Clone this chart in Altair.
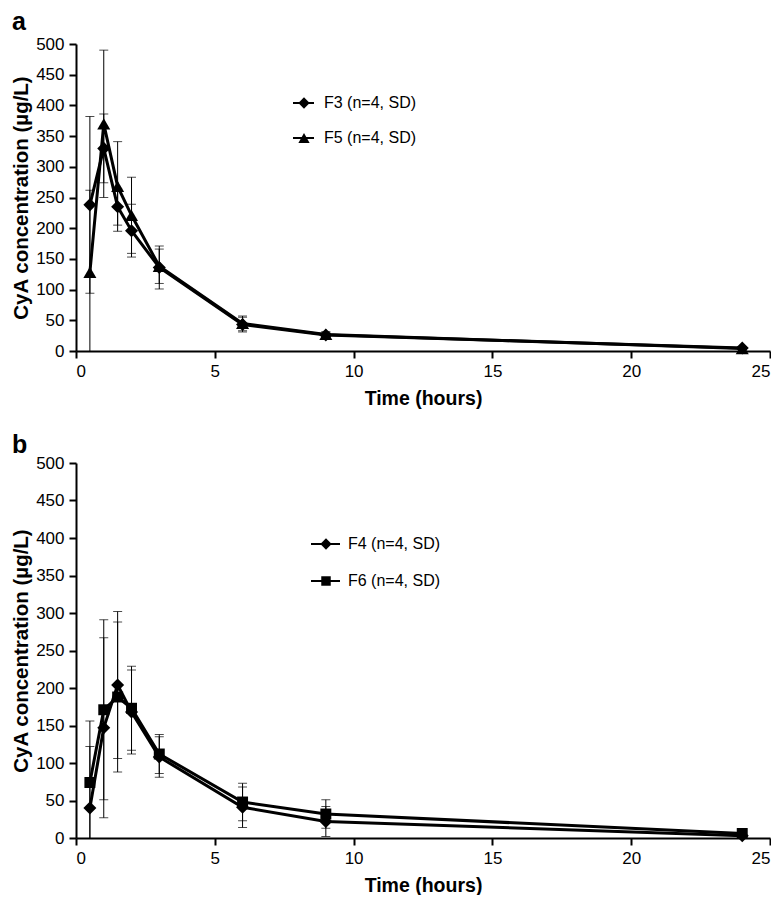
import altair as alt
import pandas as pd

FONT = "Liberation Sans"

# ---- data ----
time_h = [0.5, 1, 1.5, 2, 3, 6, 9, 24]

f3_mean = [238, 330, 235, 196, 136, 43, 26, 5]
f3_sd = [144, 56, 30, 43, 35, 12, 5, 2]
f5_mean = [128, 370, 268, 221, 138, 45, 27, 4]
f5_sd = [134, 120, 73, 62, 28, 12, 4, 2]

f4_mean = [40, 147, 204, 168, 108, 41, 22, 3]
f4_sd = [82, 120, 98, 56, 27, 27, 20, 3]
f6_mean = [74, 171, 188, 173, 112, 48, 32, 6]
f6_sd = [82, 120, 100, 56, 26, 25, 19, 3]

x_ticks = [0, 5, 10, 15, 20, 25]
y_ticks = list(range(0, 501, 50))


def series_frame(name, means, sds):
    return pd.DataFrame({
        "time": time_h,
        "conc": means,
        "lo": [m - s for m, s in zip(means, sds)],
        "hi": [m + s for m, s in zip(means, sds)],
        "series": name,
    })


def panel(letter, s1, s2, shapes, sizes, height, leg):
    frames = [series_frame(*s1), series_frame(*s2)]
    df = pd.concat(frames, ignore_index=True)
    names = [s1[0], s2[0]]
    xs = alt.Scale(domain=[0, 25], nice=False)
    ys = alt.Scale(domain=[0, 500], nice=False)
    xaxis = alt.Axis(values=x_ticks, format="d", labelOverlap=False, title="Time (hours)")
    yaxis = alt.Axis(values=y_ticks, format="d", labelOverlap=False,
                     title="CyA concentration (µg/L)")
    x = alt.X("time:Q", scale=xs, axis=xaxis)
    y = alt.Y("conc:Q", scale=ys, axis=yaxis)
    base = alt.Chart(df)

    lines = base.mark_line(color="black", strokeWidth=3).encode(
        x=x, y=y, detail="series:N")
    bars = base.mark_rule(color="black", strokeWidth=1, clip=True).encode(
        x=x, y=alt.Y("lo:Q", scale=ys, axis=yaxis), y2="hi:Q")
    cap_lo = base.mark_tick(color="black", thickness=1, size=9, orient="horizontal",
                            clip=True).encode(x=x, y=alt.Y("lo:Q", scale=ys, axis=yaxis))
    cap_hi = base.mark_tick(color="black", thickness=1, size=9, orient="horizontal",
                            clip=True).encode(x=x, y=alt.Y("hi:Q", scale=ys, axis=yaxis))
    layers = [lines, bars, cap_lo, cap_hi]
    for i, fr in enumerate(frames):
        layers.append(alt.Chart(fr).mark_point(
            filled=True, color="black", opacity=1, shape=shapes[i], size=sizes[i]
        ).encode(x=x, y=y))

    lab = alt.Chart(pd.DataFrame({"label": [letter]})).mark_text(
        font=FONT, fontSize=25, fontWeight="bold", align="left",
        baseline="alphabetic", color="black").encode(
        x=alt.value(-64), y=alt.value(leg["letter_y"]), text="label:N")
    layers.append(lab)

    for i, nm in enumerate(names):
        ly = leg["y"][i]
        one = pd.DataFrame({"series": [nm], "label": [nm + " (n=4, SD)"]})
        lb = alt.Chart(one)
        layers.append(lb.mark_rule(color="black", strokeWidth=2).encode(
            x=alt.value(leg["x1"]), x2=alt.value(leg["x2"]), y=alt.value(ly)))
        layers.append(lb.mark_point(filled=True, color="black", opacity=1,
                                    shape=shapes[i], size=sizes[i] * 0.75).encode(
            x=alt.value(leg["xm"]), y=alt.value(ly)))
        layers.append(lb.mark_text(font=FONT, fontSize=16, align="left",
                                   baseline="middle", color="black").encode(
            x=alt.value(leg["xt"]), y=alt.value(ly), text="label:N"))

    return alt.layer(*layers).properties(width=694, height=height)


top = panel("a", ("F3", f3_mean, f3_sd), ("F5", f5_mean, f5_sd),
            ["diamond", "triangle-up"], [170, 170], 307,
            {"letter_y": -14, "x1": 217, "x2": 238, "xm": 228, "xt": 248, "y": [59, 94]})
bottom = panel("b", ("F4", f4_mean, f4_sd), ("F6", f6_mean, f6_sd),
               ["diamond", "square"], [170, 120], 375,
               {"letter_y": -10, "x1": 235, "x2": 264, "xm": 250, "xt": 272, "y": [81, 118]})

chart = alt.vconcat(top, bottom, spacing=25).properties(
    padding={"left": 3, "top": 2, "right": 0, "bottom": 0},
    background="white",
).configure_view(stroke=None).configure_axis(
    grid=False,
    domainColor="black", domainWidth=2,
    tickColor="black", tickWidth=2, tickSize=7,
    labelFont=FONT, labelFontSize=17, labelColor="black", labelPadding=5,
    titleFont=FONT, titleFontWeight="bold", titleColor="black",
).configure_axisY(titlePadding=4, titleFontSize=20.5).configure_axisX(
    titlePadding=10, titleFontSize=19.5)

chart.save("out.html", embed_options={"renderer": "svg", "actions": False})
